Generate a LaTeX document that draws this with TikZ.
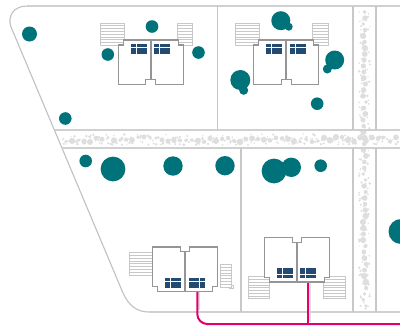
\documentclass[tikz,border=0pt]{standalone}
\definecolor{teal1}{HTML}{00727A}
\definecolor{navy1}{HTML}{234A70}
\definecolor{pink1}{HTML}{E0006E}
\definecolor{edge1}{HTML}{C8C8C8}
\definecolor{wall1}{HTML}{959595}
\definecolor{peb1}{HTML}{DEDEDE}
\tikzset{
  plot/.style={draw=edge1,line width=1.1pt},
  road/.style={draw=edge1!85,line width=1.9pt},
  wall/.style={draw=wall1,line width=1.3pt,fill=white,line join=miter},
  party/.style={draw=wall1,line width=1.6pt},
  tree/.style={fill=teal1},
  glass/.style={fill=navy1},
  cable/.style={draw=pink1,line width=2pt,rounded corners=10pt},
  halo/.style={draw=peb1,line width=1.2pt},
  stripe/.style={draw=edge1,line width=.8pt},
  pebble/.style={fill=peb1}
}
\newcommand{\stairbox}[4]{%
  \fill[white] (#1,#2) rectangle (#3,#4);
  \foreach \yy in {0,1,...,8}{
    \pgfmathsetmacro{\ya}{#2+(#4-#2)*\yy/8}
    \draw[stripe] (#1,\ya) -- (#3,\ya);
  }
  \draw[stripe] (#1,#2) rectangle (#3,#4);
}
\newcommand{\winL}[3]{%
  \fill[glass] (#1,#2) rectangle (#1+16,#2+10);
  \draw[white,line width=.8pt] (#1,#2+#3) -- (#1+16,#2+#3) (#1+5.5,#2) -- (#1+5.5,#2+10);
}
\newcommand{\winR}[3]{%
  \fill[glass] (#1,#2) rectangle (#1+16,#2+10);
  \draw[white,line width=.8pt] (#1,#2+#3) -- (#1+16,#2+#3) (#1+10.5,#2) -- (#1+10.5,#2+10);
}
\newcommand{\houseUp}[1]{%
  \begin{scope}[shift={(#1,40)}]
    \draw[wall] (0,5) -- (5,5) -- (5,0) -- (60,0) -- (60,5) -- (65,5) -- (65,44.7)
      -- (37.5,44.7) -- (37.5,39.7) -- (27.5,39.7) -- (27.5,44.7) -- (0,44.7) -- cycle;
    \draw[party] (32.4,0) -- (32.4,39.7);
  \end{scope}
}
\newcommand{\houseDn}[2]{%
  \begin{scope}[shift={(#1,#2)}]
    \draw[wall] (0,0) -- (28,0) -- (28,4.7) -- (37.5,4.7) -- (37.5,0) -- (65,0) -- (65,39.7)
      -- (60,39.7) -- (60,44.5) -- (5,44.5) -- (5,39.7) -- (0,39.7) -- cycle;
    \draw[party] (32.7,4.7) -- (32.7,44.5);
  \end{scope}
}
\begin{document}
\begin{tikzpicture}[x=1pt,y=-1pt]
\useasboundingbox (0,0) rectangle (400,325);
\fill[white] (0,0) rectangle (400,325);

% pebbles, horizontal road
\pgfmathsetseed{4711}
\foreach \i in {0,...,55}{
  \pgfmathsetmacro{\px}{66+\i*6}
  \pgfmathsetmacro{\py}{139.5+5*rand*0.5}
  \pgfmathsetmacro{\pr}{1.7+1.6*rnd}
  \fill[pebble] (\px,\py) circle (\pr);
  \foreach \j in {1,...,4}{
    \pgfmathsetmacro{\qx}{\px+6*rnd-3}
    \pgfmathsetmacro{\qy}{139.5+5.5*rand}
    \pgfmathsetmacro{\qr}{0.6+0.8*rnd}
    \fill[pebble] (\qx,\qy) circle (\qr);
  }
}
% pebbles, vertical road
\foreach \i in {0,...,49}{
  \pgfmathsetmacro{\py}{12+\i*6}
  \pgfmathsetmacro{\px}{364.5+3.5*rand*0.5}
  \pgfmathsetmacro{\pr}{1.7+1.6*rnd}
  \fill[pebble] (\px,\py) circle (\pr);
  \foreach \j in {1,2,3}{
    \pgfmathsetmacro{\qy}{\py+6*rnd-3}
    \pgfmathsetmacro{\qx}{364.5+5.5*rand}
    \pgfmathsetmacro{\qr}{0.6+0.8*rnd}
    \fill[pebble] (\qx,\qy) circle (\qr);
  }
}

% site boundary and plots
\draw[road] (400,6) -- (27,6);
\draw[draw=edge1!90!gray,line width=1.1pt] (27,6) .. controls (14,6) and (7,16) .. (11,27) -- (123,293) .. controls (129,306) and (137,312) .. (149,312);
\draw[road] (149,312) -- (400,312);
\draw[road] (54.5,130) -- (400,130);
\draw[road] (62,148) -- (400,148);
\draw[plot] (217.5,6) -- (217.5,130);
\draw[plot] (353,6) -- (353,130);
\draw[plot] (376,6) -- (376,130);
\draw[plot] (241,148) -- (241,312);
\draw[plot] (353,148) -- (353,312);
\draw[plot] (376,148) -- (376,312);

% trees
\foreach \cx/\cy/\r in {29.5/34/7.5, 65.3/118.5/6.3, 152/26.5/6.3, 107.8/54.5/6.3, 198.5/52.5/6.3,
  280.8/20.7/9.5, 288.7/26.7/4, 334.7/60/9.5, 327.3/69/4.5, 240.3/80/10, 243.7/90.3/4.5, 317.2/103.7/6.3,
  85.7/161/6.3, 113/169/12.4, 173/166/9.7, 225/165.7/9.7,
  274/171/12.4, 291.3/167.3/9.7, 320.7/165.7/6.3, 401/231.5/12.5}{
  \fill[tree] (\cx,\cy) circle (\r);
}

% stairs
\stairbox{100}{23}{124}{45.3}
\stairbox{177.3}{23}{192.7}{45.3}
\stairbox{235.3}{23}{259.3}{45.3}
\stairbox{312.7}{23}{328}{45.3}
\stairbox{129.3}{252.7}{152.7}{275}
\stairbox{220.3}{264.7}{231.7}{287}
\draw[stripe] (231.7,285) -- (233.5,285) -- (233.5,288) -- (229,288);
\stairbox{248.3}{276.7}{269.7}{298.7}
\stairbox{323.7}{276.7}{345}{298.7}

% cables
\draw[halo] (199,291) -- (199,310);
\draw[halo] (310,282) -- (310,322);
\draw[cable] (197.3,291) -- (197.3,324) -- (400,324);
\draw[draw=pink1,line width=2pt] (308.3,282) -- (308.3,324);

% houses
\houseUp{118.3}
\houseUp{253.7}
\houseDn{152.3}{247}
\houseDn{264.3}{237.5}

% windows
\winL{131}{44}{3.3}
\winL{154}{44}{3.3}
\winL{266}{44}{3.3}
\winL{290}{44}{3.3}
\winL{165}{278.3}{3.3}
\winR{189}{278.3}{3.3}
\winL{277}{268}{6.4}
\winL{300}{268}{6.4}
\end{tikzpicture}
\end{document}
